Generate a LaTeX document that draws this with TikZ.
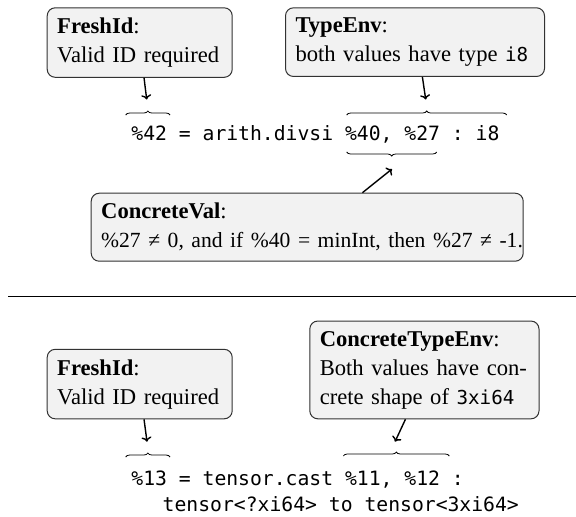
\documentclass[tikz,border=0pt]{standalone}
\usepackage{fontspec}
\setmainfont{Liberation Serif}
\setmonofont{DejaVu Sans Mono}[Scale=0.85]
\usetikzlibrary{arrows.meta,positioning,decorations.pathreplacing}
\definecolor{boxfill}{RGB}{242,242,242}
\definecolor{boxline}{RGB}{50,50,50}

\begin{document}
\begin{tikzpicture}[x=0.5pt,y=-0.5pt,>={To[length=2.4pt,width=5pt]},line width=0.7pt,
  rule/.style={draw=boxline,fill=boxfill,rounded corners=4pt,line width=0.5pt,inner sep=5pt,
    align=left,font=\fontsize{11.3pt}{14.5pt}\selectfont},
  code/.style={inner sep=0pt,anchor=base west,font=\fontsize{11.6pt}{13.35pt}\selectfont\ttfamily},
  brc/.style={decorate,decoration={brace,amplitude=2pt},line width=0.4pt}]
  \useasboundingbox (0,0) rectangle (576,516);
  \node[rule,anchor=north west,text width=82.5pt] (fresh1) at (46.7,7.3) {\textbf{FreshId}:\\Valid ID required};
  \node[rule,anchor=north west,text width=119.5pt] (tyenv) at (285,7.3) {\textbf{TypeEnv}:\\both values have type \texttt{i8}};
  \node[code] (code1) at (130.7,140) {\%42 = arith.divsi \%40, \%27 : i8};
  \node[rule,anchor=north west,text width=206pt] (concval) at (90.7,192.7)
    {\textbf{ConcreteVal}:\\\mbox{\fontsize{10.8pt}{14.5pt}\selectfont\%27 ≠ 0, and if \%40 = minInt, then \%27 ≠ -1.}};
  \coordinate (t1) at (146.7,99.5); \coordinate (t2) at (425.7,99.5); \coordinate (t3) at (392,169);
  \draw[brc] (125.7,115) -- (170,115);
  \draw[brc] (346.7,115) -- (506.7,115);
  \draw[brc] (436.7,152) -- (346.7,152);
  \draw[->] (fresh1.-83) -- (t1);
  \draw[->] (tyenv.-78) -- (t2);
  \draw[->] (concval.32) -- (t3);

  \draw[line width=0.7pt] (8,296.5) -- (576,296.5);

  \node[rule,anchor=south west,text width=82.5pt] (fresh2) at (46.7,419.3) {\textbf{FreshId}:\\Valid ID required};
  \node[rule,anchor=south west,text width=104.6pt] (ctyenv) at (309.3,419.3)
    {\textbf{ConcreteTypeEnv}:\\\mbox{Both values have con-}\\crete shape of \texttt{3xi64}};
  \node[code] (code2) at (130.7,485) {\%13 = tensor.cast \%11, \%12 :};
  \node[code] (code3) at (162,511.7) {tensor<?xi64> to tensor<3xi64>};
  \coordinate (t4) at (147,441.7); \coordinate (t5) at (395,441.7);
  \draw[brc] (125.7,457) -- (170,457);
  \draw[brc] (343.3,456) -- (449.3,456);
  \draw[->] (fresh2.-83) -- (t4);
  \draw[->] (ctyenv.-111) -- (t5);
\end{tikzpicture}
\end{document}
